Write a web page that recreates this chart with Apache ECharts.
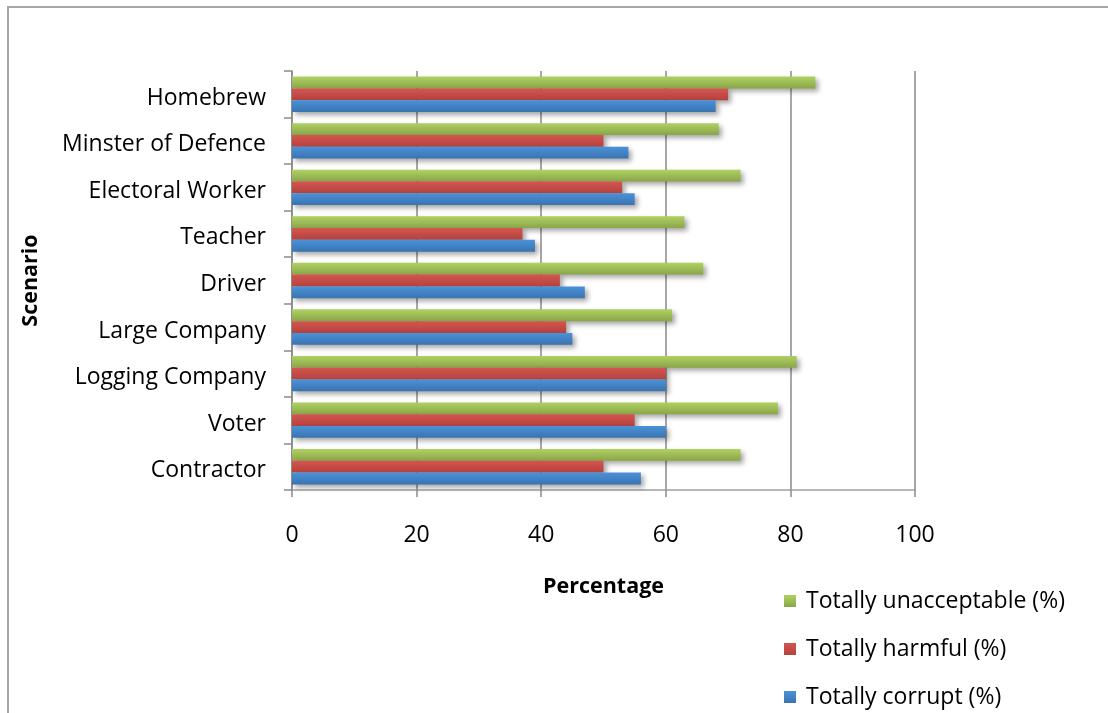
<!DOCTYPE html>
<html>
<head>
<meta charset="utf-8">
<title>Scenario ratings</title>
<script src="https://cdn.jsdelivr.net/npm/echarts@6/dist/echarts.min.js"></script>
<style>
  html, body { margin: 0; padding: 0; background: #ffffff; }
  #chart { width: 1108px; height: 713px; }
</style>
</head>
<body>
<div id="chart"></div>
<script>
// Scenarios, top to bottom
const scenarios = ['Homebrew', 'Minster of Defence', 'Electoral Worker', 'Teacher', 'Driver',
  'Large Company', 'Logging Company', 'Voter', 'Contractor'];

// Percent of respondents per scenario
const unacceptable = [84, 68.5, 72, 63, 66, 61, 81, 78, 72];
const harmful      = [70, 50, 53, 37, 43, 44, 60, 55, 50];
const corrupt      = [68, 54, 55, 39, 47, 45, 60, 60, 56];

const xTicks = [0, 20, 40, 60, 80, 100];

const seriesNames = ['Totally unacceptable (%)', 'Totally harmful (%)', 'Totally corrupt (%)'];

function grad(top, bottom) {
  return new echarts.graphic.LinearGradient(0, 0, 0, 1, [
    { offset: 0, color: top },
    { offset: 1, color: bottom }
  ]);
}

const fills = [
  grad('#b0d163', '#8aa649'),
  grad('#d4554f', '#b5423e'),
  grad('#4a92da', '#3a73b0')
];

const FONT = '"Open Sans", "Noto Sans", sans-serif';

function barSeries(name, data, fill) {
  return {
    name: name,
    type: 'bar',
    data: data,
    barGap: '0%',
    barCategoryGap: '24%',
    itemStyle: {
      color: fill,
      shadowBlur: 5,
      shadowOffsetX: 3,
      shadowOffsetY: 3,
      shadowColor: 'rgba(0,0,0,0.35)'
    },
    emphasis: { disabled: true }
  };
}

const chart = echarts.init(document.getElementById('chart'), null, { renderer: 'canvas' });

chart.setOption({
  animation: false,
  backgroundColor: '#ffffff',
  graphic: [{
    type: 'rect',
    shape: { x: 8, y: 7, width: 1200, height: 800 },
    style: { fill: 'none', stroke: '#a6a6a6', lineWidth: 2 },
    silent: true,
    z: 0
  }],
  grid: { left: 292, top: 71, width: 623, height: 419, containLabel: false },
  legend: {
    data: seriesNames,
    orient: 'vertical',
    left: 784,
    top: 589,
    padding: 0,
    itemWidth: 12,
    itemHeight: 12,
    itemGap: 24,
    icon: 'rect',
    textStyle: { fontFamily: FONT, fontSize: 23, color: '#000', lineHeight: 24, padding: [0, 0, 0, 5] }
  },
  xAxis: {
    type: 'value',
    min: xTicks[0],
    max: xTicks[xTicks.length - 1],
    interval: 20,
    name: 'Percentage',
    nameLocation: 'middle',
    nameGap: 86,
    nameTextStyle: { fontFamily: FONT, fontSize: 21.5, fontWeight: 'bold', color: '#000' },
    axisLine: { show: true, lineStyle: { color: '#a0a0a0', width: 1.5 } },
    axisTick: { show: true, length: 7, lineStyle: { color: '#8a8a8a', width: 1.5 } },
    axisLabel: { fontFamily: FONT, fontSize: 23, color: '#000', margin: 34 },
    splitLine: { show: true, lineStyle: { color: '#8a8a8a', width: 1.5 } }
  },
  yAxis: {
    type: 'category',
    data: scenarios,
    inverse: true,
    name: 'Scenario',
    nameLocation: 'middle',
    nameRotate: 90,
    nameGap: 250,
    nameTextStyle: { fontFamily: FONT, fontSize: 21.5, fontWeight: 'bold', color: '#000' },
    axisLine: { show: true, lineStyle: { color: '#8a8a8a', width: 1.5 } },
    axisTick: { show: true, length: 8, alignWithLabel: false, lineStyle: { color: '#8a8a8a', width: 1.5 } },
    axisLabel: { fontFamily: FONT, fontSize: 23, color: '#000', margin: 26, verticalAlign: 'top', lineHeight: 8 }
  },
  series: [
    barSeries(seriesNames[0], unacceptable, fills[0]),
    barSeries(seriesNames[1], harmful, fills[1]),
    barSeries(seriesNames[2], corrupt, fills[2])
  ]
});
</script>
</body>
</html>
